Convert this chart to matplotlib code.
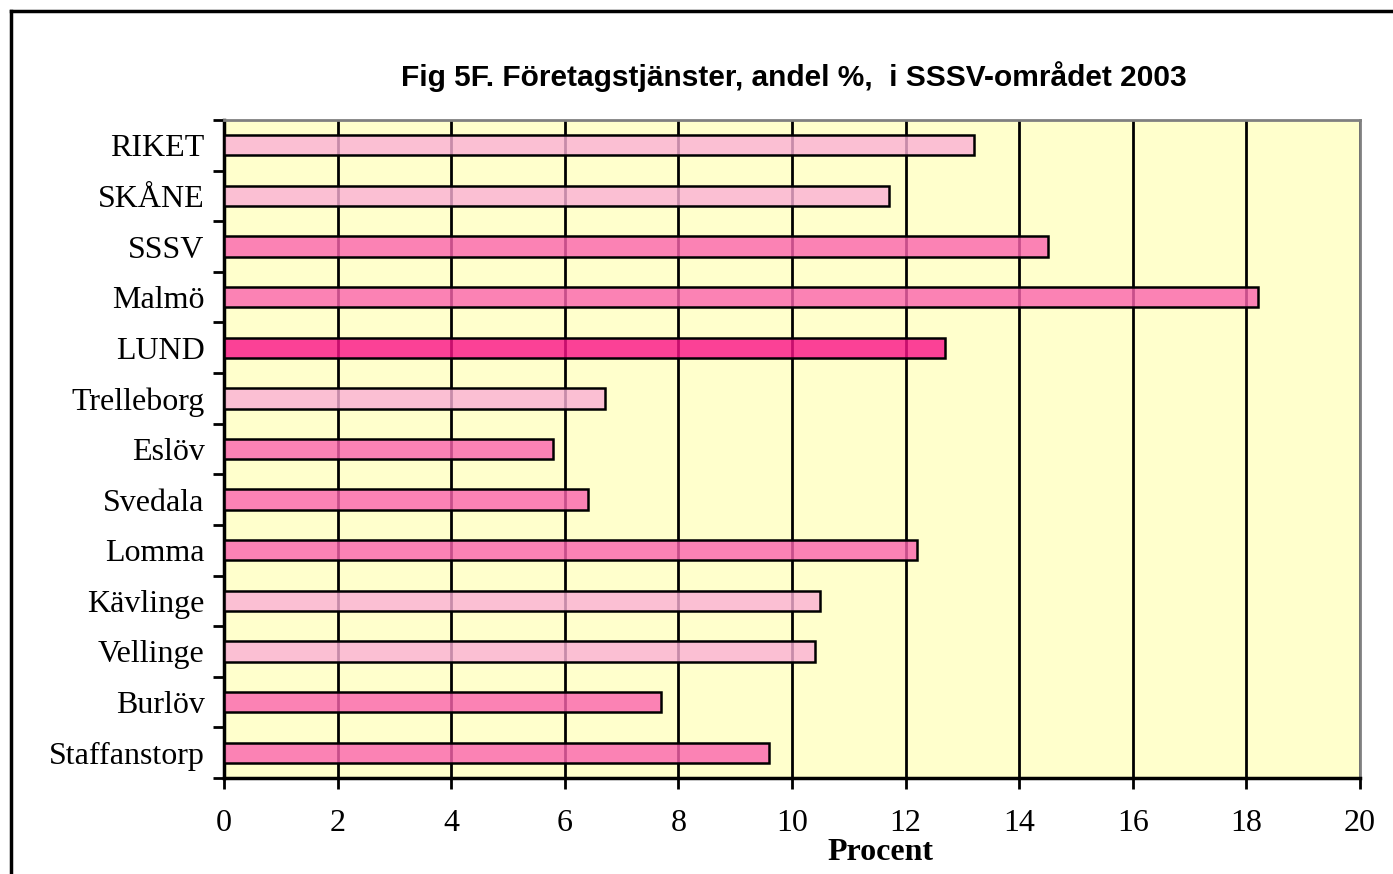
import matplotlib
matplotlib.use("Agg")
import matplotlib.pyplot as plt
from matplotlib.lines import Line2D
import numpy as np

categories = ["RIKET", "SKÅNE", "SSSV", "Malmö", "LUND", "Trelleborg", "Eslöv",
              "Svedala", "Lomma", "Kävlinge", "Vellinge", "Burlöv", "Staffanstorp"]
values = [13.2, 11.7, 14.5, 18.2, 12.7, 6.7, 5.8, 6.4, 12.2, 10.5, 10.4, 7.7, 9.6]
shade = ["light", "light", "medium", "medium", "dark", "light", "medium",
         "medium", "medium", "light", "light", "medium", "medium"]
title = "Fig 5F. Företagstjänster, andel %,  i SSSV-området 2003"
xlabel = "Procent"
xticks = [0, 2, 4, 6, 8, 10, 12, 14, 16, 18, 20]

palette = {
    "light": (250/255, 175/255, 213/255, 0.8),
    "medium": (251/255, 99/255, 174/255, 0.8),
    "dark": (250/255, 18/255, 137/255, 0.8),
}

fig = plt.figure(figsize=(13.93, 8.74), dpi=100)
ax = fig.add_axes([224/1393, 1-778/874, (1360-224)/1393, (778-120)/874])
ax.set_facecolor("#FFFFCC")

y = np.arange(len(categories))
ax.barh(y, values, height=0.4, color=[palette[s] for s in shade],
        edgecolor="black", linewidth=1.8, zorder=3)

ax.set_xlim(0, 20)
ax.set_ylim(len(categories) - 0.5, -0.5)
ax.set_xticks(xticks)
ax.set_xticklabels([str(t) for t in xticks], fontsize=23, family="Liberation Serif")
ax.set_yticks(y)
ax.set_yticklabels(categories, fontsize=23, family="Liberation Serif")
ax.set_yticks(np.arange(len(categories) + 1) - 0.5, minor=True)
ax.tick_params(axis="y", which="major", length=0, pad=14)
ax.tick_params(axis="y", which="minor", length=8, width=2, direction="out")
ax.tick_params(axis="x", which="major", length=8, width=2, direction="out", pad=14)

ax.xaxis.grid(True, color="black", linewidth=2, zorder=1)
ax.set_axisbelow(True)

for s in ["top", "right"]:
    ax.spines[s].set_color("#808080")
    ax.spines[s].set_linewidth(2)
for s in ["left", "bottom"]:
    ax.spines[s].set_color("black")
    ax.spines[s].set_linewidth(2.5)

fig.text(794/1393, 1-77/874, title, ha="center", va="center",
         fontsize=21.5, fontweight="bold", family="Liberation Sans")
fig.text(880/1393, 1-852/874, xlabel, ha="center", va="center",
         fontsize=23, fontweight="bold", family="Liberation Serif")

# outer figure border (extends past right and bottom edges)
fig.add_artist(Line2D([11/1393, 1.0], [1-11/874, 1-11/874], color="black",
                      linewidth=2.5, transform=fig.transFigure))
fig.add_artist(Line2D([11/1393, 11/1393], [1-11/874, 0.0], color="black",
                      linewidth=2.5, transform=fig.transFigure))

fig.savefig("out.png", dpi=100)
